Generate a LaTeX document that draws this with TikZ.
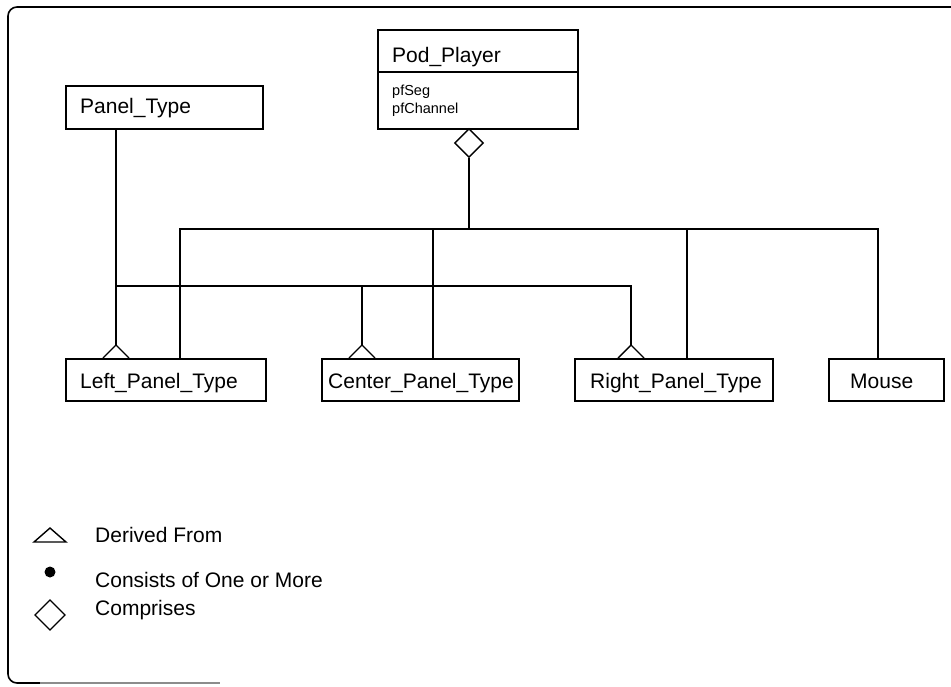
\documentclass[tikz,border=0pt]{standalone}
\usepackage{fontspec}
\setmainfont{Liberation Sans}
\usetikzlibrary{shapes.geometric}
\begin{document}
\begin{tikzpicture}[x=1pt,y=-1pt,
  box/.style={draw,line width=1.6pt,rectangle,inner sep=0pt,anchor=north west},
  lbl/.style={anchor=base west,inner sep=0pt,font=\fontsize{21}{25}\selectfont},
  small/.style={anchor=base west,inner sep=0pt,font=\fontsize{14.5}{17}\selectfont},
  conn/.style={line width=1.2pt},
  tri/.style={line width=1.4pt,line join=miter}]
\useasboundingbox (0,0) rectangle (951,686);
% frame
\draw[line width=1.6pt,rounded corners=9pt] (951,7) -- (8,7) -- (8,683) -- (40,683);
\draw[line width=1.2pt,black!45] (40,683) -- (220,683);

% Pod_Player
\node[box,minimum width=200,minimum height=99] (pod) at (377,29) {};
\draw[line width=1.4pt] (377,72) coordinate (divL) -- (577,72) coordinate (divR);
\node[lbl] (podt) at (392,62) {Pod\_Player};
\node[small] (pfs) at (392,95) {pfSeg};
\node[small] (pfc) at (392,113) {pfChannel};
\node[diamond,draw,line width=1.4pt,minimum width=29,minimum height=29,inner sep=0pt] (dia) at (469,143) {};

% Panel_Type
\node[box,minimum width=197,minimum height=43] (pt) at (65,85) {};
\node[lbl] (ptt) at (80,113) {Panel\_Type};

% lower boxes
\node[box,minimum width=200,minimum height=42] (lpt) at (65,358) {};
\node[lbl] (lptt) at (80,388) {Left\_Panel\_Type};
\node[box,minimum width=197,minimum height=42] (cpt) at (321,358) {};
\node[lbl] (cptt) at (328,388) {Center\_Panel\_Type};
\node[box,minimum width=198,minimum height=42] (rpt) at (574,358) {};
\node[lbl] (rptt) at (590,388) {Right\_Panel\_Type};
\node[box,minimum width=115,minimum height=42] (mouse) at (828,358) {};
\node[lbl] (mouset) at (850,388) {Mouse};

% comprises bus
\coordinate (b1L) at (180,229);
\coordinate (b1R) at (878,229);
\coordinate (j1) at (433,229);
\coordinate (j2) at (687,229);
\draw[conn] (dia.south) -- (dia.south |- b1L);
\draw[conn] (lpt.north -| b1L) -- (b1L) -- (b1R) -- (mouse.north -| b1R);
\draw[conn] (j1) -- (cpt.north -| j1);
\draw[conn] (j2) -- (rpt.north -| j2);

% derived-from bus
\coordinate (ap1) at (116,345);
\coordinate (ap2) at (362,345);
\coordinate (ap3) at (631,345);
\coordinate (b2R) at (631,286);
\coordinate (j3) at (362,286);
\draw[conn] (pt.south -| ap1) -- (ap1);
\draw[conn] (ap1 |- b2R) -- (b2R) -- (ap3);
\draw[conn] (j3) -- (ap2);
\foreach \a in {ap1,ap2,ap3}{
  \draw[tri] ([xshift=-13pt,yshift=-13pt]\a) -- (\a) -- ([xshift=13pt,yshift=-13pt]\a);
}

% legend
\draw[tri] (50,528) -- (66,542) -- (34,542) -- cycle;
\node[lbl] (l1) at (95,542) {Derived From};
\fill (50,572) circle (5.5pt);
\node[lbl] (l2) at (95,587) {Consists of One or More};
\draw[tri] (35,615) -- (50,600) -- (65,615) -- (50,630) -- cycle;
\node[lbl] (l3) at (95,615) {Comprises};
\end{tikzpicture}
\end{document}
